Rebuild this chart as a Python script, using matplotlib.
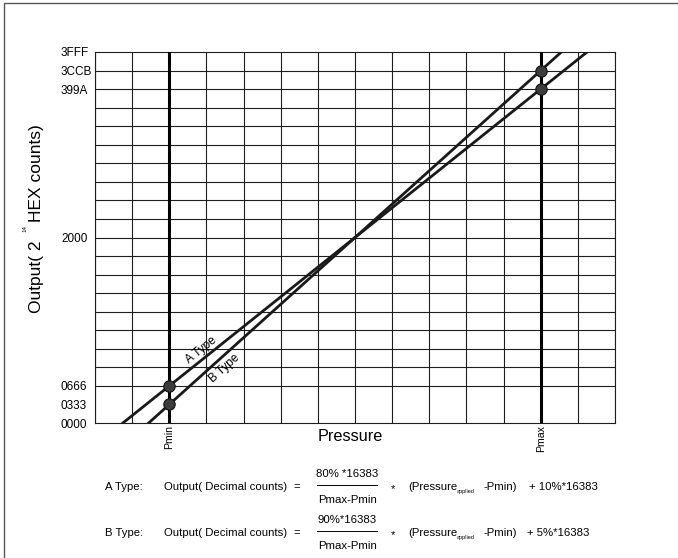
import numpy as np
import matplotlib
matplotlib.use("Agg")
import matplotlib.pyplot as plt
from matplotlib.patches import Rectangle
from matplotlib.lines import Line2D

plt.rcParams['font.family'] = ['Liberation Sans', 'DejaVu Sans']

W, H = 678, 558

# chart data
full_scale = 16383          # 2^14 - 1 counts
n_cols = 14                 # pressure grid divisions
n_rows = 20                 # output grid divisions (5 % each)
press_pos = [2, 12]
press_labels = ['Pmin', 'Pmax']
a_out = [0x0666, 0x399A]    # A type: 10 % .. 90 %
b_out = [0x0333, 0x3CCB]    # B type:  5 % .. 95 %
hex_ticks = [0x0000, 0x0333, 0x0666, 0x2000, 0x399A, 0x3CCB, 0x3FFF]
hex_labels = ['0000', '0333', '0666', '2000', '399A', '3CCB', '3FFF']

fig = plt.figure(figsize=(W / 100, H / 100), dpi=100)
ax = fig.add_axes([95 / W, 1 - 423 / H, 520 / W, 371 / H])
ax.set_xlim(0, n_cols)
ax.set_ylim(0, full_scale)

# grid
ax.set_xticks(np.arange(n_cols + 1), minor=True)
ax.set_yticks(np.linspace(0, full_scale, n_rows + 1), minor=True)
ax.grid(which='minor', color='#1e1e1e', lw=0.8)
ax.set_xticks(press_pos)
ax.set_xticklabels(press_labels, rotation=90, fontsize=7.6)
ax.set_yticks(hex_ticks)
ax.set_yticklabels(hex_labels, fontsize=8.5)
ax.tick_params(which='both', length=0)
ax.tick_params(axis='y', pad=24.5)
ax.tick_params(axis='x', pad=1.5)
for lab in ax.get_yticklabels():
    lab.set_ha('left')
for s in ax.spines.values():
    s.set_color('#1e1e1e')
    s.set_linewidth(0.8)

for p in press_pos:
    ax.axvline(p, color='black', lw=2.2, zorder=3)


def extend(y):
    k = (y[1] - y[0]) / (press_pos[1] - press_pos[0])
    return [y[0] + k * (x - press_pos[0]) for x in (0, n_cols)]


ax.plot([0, n_cols], extend(a_out), color='#1a1a1a', lw=2.0, zorder=4)
ax.plot([0, n_cols], extend(b_out), color='#1a1a1a', lw=2.0, zorder=4)
for y in (a_out, b_out):
    ax.plot(press_pos, y, 'o', ms=8.2, mfc='#3c3c3c', mec='#111111', mew=0.8, zorder=5)

# rotated line labels
fig.canvas.draw()
r = fig.canvas.get_renderer()


def angle(y):
    p1 = ax.transData.transform((press_pos[0], y[0]))
    p2 = ax.transData.transform((press_pos[1], y[1]))
    return np.degrees(np.arctan2(p2[1] - p1[1], p2[0] - p1[0]))


ax.text(2.854, 3226, 'A Type', rotation=angle(a_out), rotation_mode='anchor',
        ha='center', va='center', fontsize=8.5)
ax.text(3.473, 2428, 'B Type', rotation=angle(b_out), rotation_mode='anchor',
        ha='center', va='center', fontsize=8.5)

ax.text(0.4904, -0.0377, 'Pressure', transform=ax.transAxes,
        ha='center', va='center', fontsize=11.7)

# y label built from pieces (tiny superscript)
t1 = fig.text(37 / W, 1 - 313 / H, 'Output( 2', rotation=90, ha='center', va='bottom', fontsize=12.5)
e1 = t1.get_window_extent(r)
t2 = fig.text(25 / W, (e1.y1 + 8) / H, '14', rotation=90, ha='center', va='bottom', fontsize=4.5)
e2 = t2.get_window_extent(r)
fig.text(37 / W, (e2.y1 + 4) / H, 'HEX counts)', rotation=90, ha='center', va='bottom', fontsize=12.5)


# formulas
def ftext(x, y, s, size=8.2, **kw):
    fig.text(x / W, 1 - y / H, s, fontsize=size, va='center', **kw)


rows = [(487, 'A Type:', '80% *16383', '+ 10%*16383', 529),
        (533, 'B Type:', '90%*16383', '+ 5%*16383', 527)]
for y, name, num, tail, tx in rows:
    ftext(105, y, name)
    ftext(164, y, 'Output( Decimal counts)')
    ftext(297, y, '=', ha='center')
    ftext(347, y - 13, num, ha='center')
    fig.add_artist(Line2D([317 / W, 377 / W], [1 - (y - 2) / H] * 2, color='black', lw=0.7))
    ftext(347, y + 13, 'Pmax-Pmin', ha='center')
    ftext(393, y + 2, '*', ha='center')
    ftext(408, y, '(Pressure')
    ftext(457, y + 4, 'applied', size=4)
    ftext(483, y, '-Pmin)')
    ftext(tx, y, tail)

# outer frame
fig.add_artist(Rectangle((4 / W, -0.1), 1.2, 1.1 - 3 / H, transform=fig.transFigure,
                         fill=False, lw=1, ec='#555555'))

fig.savefig('out.png', dpi=100)
